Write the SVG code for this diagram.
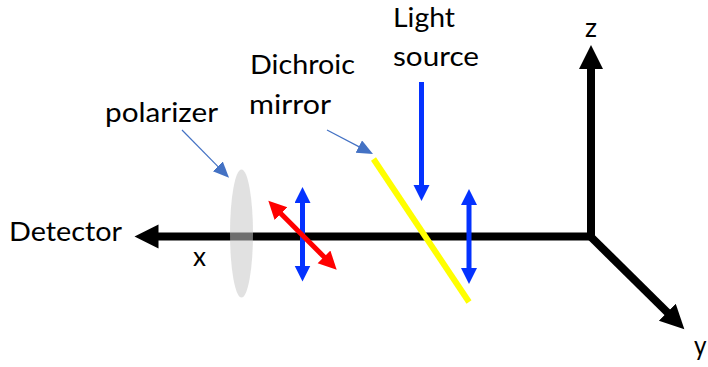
<svg xmlns="http://www.w3.org/2000/svg" width="708" height="367" viewBox="0 0 708 367">
<defs>
<marker id="hk" markerUnits="userSpaceOnUse" markerWidth="26" markerHeight="26" refX="1" refY="12" orient="auto-start-reverse"><path d="M0 0L24 12L0 24Z" fill="#000"/></marker>
<marker id="hb" markerUnits="userSpaceOnUse" markerWidth="18" markerHeight="18" refX="1" refY="8" orient="auto-start-reverse"><path d="M0 0L16 8L0 16Z" fill="#0432ff"/></marker>
<marker id="hr" markerUnits="userSpaceOnUse" markerWidth="20" markerHeight="20" refX="1" refY="9" orient="auto-start-reverse"><path d="M0 0L18 9L0 18Z" fill="#ff0000"/></marker>
<marker id="hp" markerUnits="userSpaceOnUse" markerWidth="18" markerHeight="16" refX="1" refY="7" orient="auto"><path d="M0 0L16 7L0 14Z" fill="#4472c4"/></marker>
</defs>
<style>
text{font-family:"Lato","Liberation Sans",sans-serif;font-size:27.500px;fill:#000}
.k{stroke:#000;stroke-width:8;fill:none}
.b{stroke:#0432ff;stroke-width:5;fill:none}
.p{stroke:#4472c4;stroke-width:1.200;fill:none;marker-end:url(#hp)}
</style>
<g id="connectors">
<line class="k" x1="591" y1="236.500" x2="157.500" y2="236.500" marker-end="url(#hk)"/>
<line class="k" x1="591" y1="240" x2="591" y2="68" marker-end="url(#hk)"/>
<line class="k" x1="590" y1="236" x2="668" y2="313" marker-end="url(#hk)"/>
<line class="b" x1="421.500" y1="82" x2="421.500" y2="186" marker-end="url(#hb)"/>
<line class="b" x1="469" y1="204" x2="469" y2="269" marker-start="url(#hb)" marker-end="url(#hb)"/>
<line class="b" x1="302.500" y1="202" x2="302.500" y2="266.500" marker-start="url(#hb)" marker-end="url(#hb)"/>
<line x1="280.300" y1="212.900" x2="324.700" y2="257.600" stroke="#ff0000" stroke-width="5" marker-start="url(#hr)" marker-end="url(#hr)"/>
<line class="p" x1="182" y1="130" x2="218.500" y2="167.100"/>
<line class="p" x1="327" y1="130" x2="359.700" y2="147.100"/>
</g>
<g id="polarizer"><ellipse cx="241.500" cy="233.500" rx="11.500" ry="64" fill="#c8c8c8" fill-opacity="0.55"/></g>
<g id="mirror"><line x1="373.500" y1="159" x2="469" y2="302" stroke="#ffff00" stroke-width="6"/></g>
<g id="labels">
<text x="9" y="241" textLength="113" lengthAdjust="spacingAndGlyphs">Detector</text>
<text x="193" y="266" textLength="13" lengthAdjust="spacingAndGlyphs">x</text>
<text x="105" y="122" textLength="113" lengthAdjust="spacingAndGlyphs">polarizer</text>
<text x="250" y="74" textLength="105" lengthAdjust="spacingAndGlyphs">Dichroic</text>
<text x="249" y="113.500" textLength="82" lengthAdjust="spacingAndGlyphs">mirror</text>
<text x="393" y="27" textLength="62" lengthAdjust="spacingAndGlyphs">Light</text>
<text x="393" y="66" textLength="86" lengthAdjust="spacingAndGlyphs">source</text>
<text x="585" y="37" textLength="12" lengthAdjust="spacingAndGlyphs">z</text>
<text x="694" y="355" textLength="12.500" lengthAdjust="spacingAndGlyphs">y</text>
</g>
</svg>
